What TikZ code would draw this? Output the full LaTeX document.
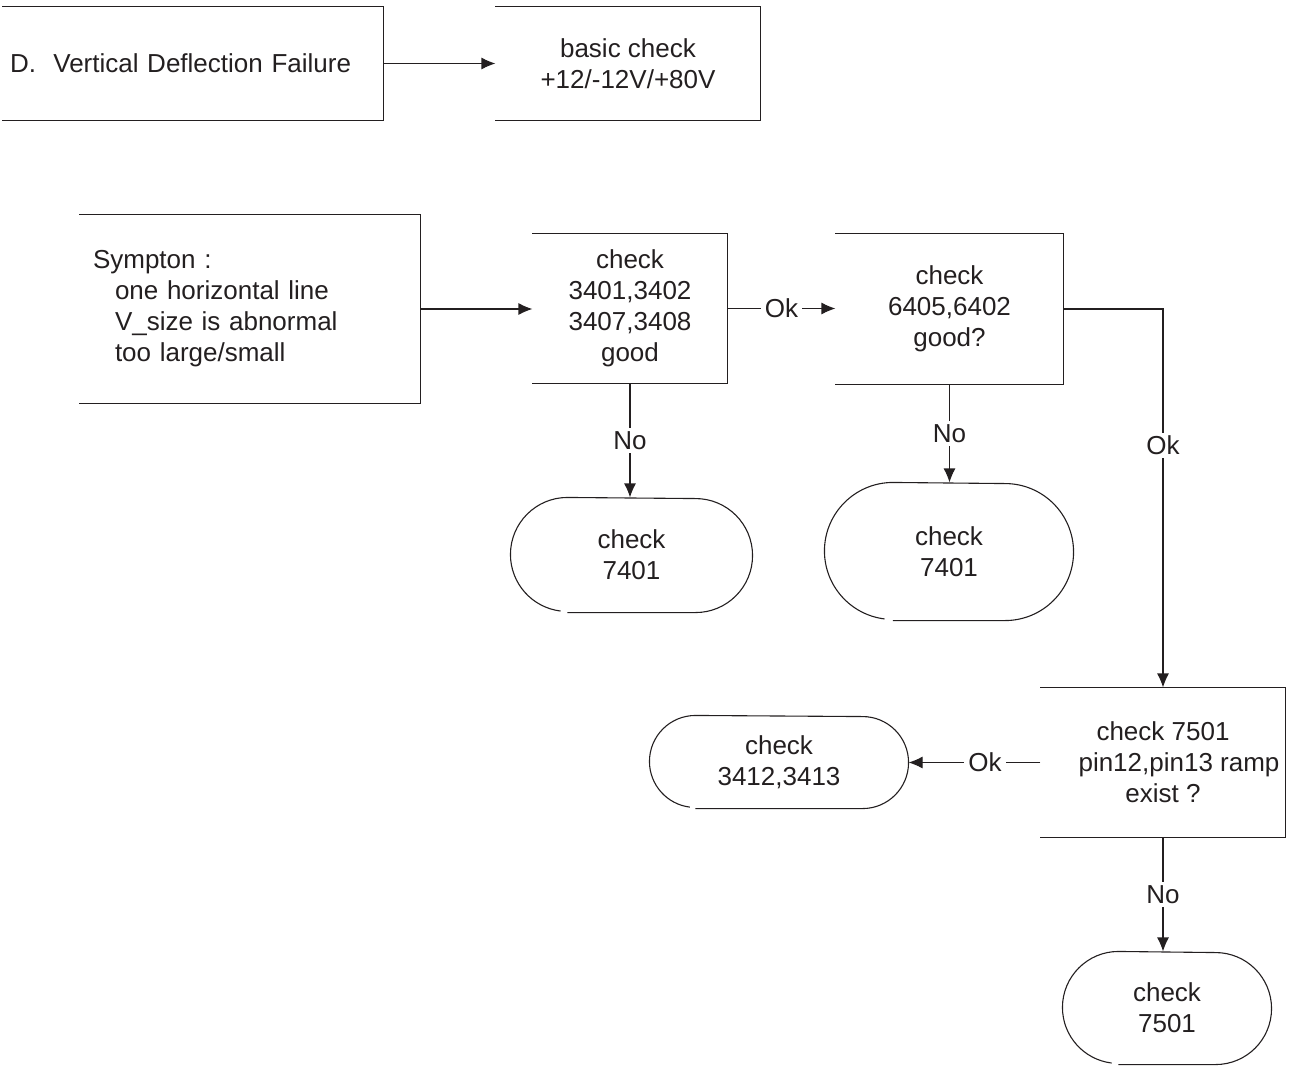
\documentclass[tikz,border=0pt]{standalone}
\usepackage{fontspec}
\setmainfont{Liberation Sans}
\usetikzlibrary{arrows.meta,calc}
\definecolor{ink}{RGB}{35,31,32}

% three-sided box: top, right and bottom edges of a node
\newcommand\threeside[1]{%
  \draw (#1.north west) -- (#1.north east) -- (#1.south east) -- (#1.south west);}
% terminal with round ends, leaving a small gap at the lower left
\newcommand\roundend[2]{%
  \draw ([xshift=#2]#1.south west) -- ([xshift=-#2]#1.south east)
    arc[start angle=-90,end angle=90,radius=#2]
    -- ([xshift=#2]#1.north west)
    arc[start angle=90,end angle=263,radius=#2];}

\begin{document}
\begin{tikzpicture}[x=1pt,y=1pt,
  line width=1.1pt, draw=ink, color=ink,
  every node/.style={font=\fontsize{26}{31}\selectfont, text=ink},
  box/.style={inner sep=0pt, align=center},
  arr/.style={-{Latex[length=14pt,width=12pt]}},
  lbl/.style={fill=white, inner xsep=4pt, inner ysep=3pt}]
\useasboundingbox (0,0) rectangle (1291,-1066);

% header
\node[box, minimum width=380pt, minimum height=113pt, text width=366pt, align=left]
  (fail) at (193,-63.5) {D.\ \ Vertical Deflection Failure};
\node[box, minimum width=264pt, minimum height=113pt]
  (basic) at (628,-63.5) {basic check\\+12/-12V/+80V};

% symptom and checks
\node[box, minimum width=340pt, minimum height=188pt, text width=314pt, align=left]
  (symp) at (250,-309) {Sympton :\\\hspace*{22pt}one horizontal line\\\hspace*{22pt}V\_size is abnormal\\\hspace*{22pt}too large/small};
\node[box, minimum width=194pt, minimum height=149pt]
  (c1) at (630,-308.5) {check\\3401,3402\\3407,3408\\good};
\node[box, minimum width=227pt, minimum height=150pt]
  (c2) at (949.5,-309) {check\\6405,6402\\good?};
\node[box, minimum width=244pt, minimum height=149pt]
  (c3) at (1163,-762.5) {check 7501\\\hspace*{32pt}pin12,pin13 ramp\\exist ?};

% terminals
\node[box, minimum width=241pt, minimum height=114pt] (r1) at (631.5,-555) {check\\7401};
\node[box, minimum width=248pt, minimum height=137pt] (r2) at (949,-551.5) {check\\7401};
\node[box, minimum width=258pt, minimum height=92pt] (r3) at (779,-762) {check\\3412,3413};
\node[box, minimum width=208pt, minimum height=112pt] (r4) at (1167,-1008) {check\\7501};

\threeside{fail}
\threeside{basic}
\threeside{symp}
\threeside{c1}
\threeside{c2}
\threeside{c3}

\roundend{r1}{57pt}
\roundend{r2}{68.5pt}
\roundend{r3}{46pt}
\roundend{r4}{56pt}

% connectors
\draw[arr] (fail.east) -- (fail.east -| basic.west);
\draw[arr] (symp.east) -- (symp.east -| c1.west);
\draw[arr] (c1.east) -- node[lbl]{Ok} (c1.east -| c2.west);
\draw[arr] (c1.south) -- node[lbl]{No} (c1.south |- r1.north);
\draw[arr] (c2.south) -- node[lbl]{No} (c2.south |- r2.north);
\draw[arr] (c2.east) -| node[lbl, pos=0.68]{Ok} (c3.north);
\draw[arr] (c3.west) -- node[lbl, pos=0.42]{Ok} (c3.west -| r3.east);
\draw[arr] (c3.south) -- node[lbl]{No} (c3.south |- r4.north);
\end{tikzpicture}
\end{document}
